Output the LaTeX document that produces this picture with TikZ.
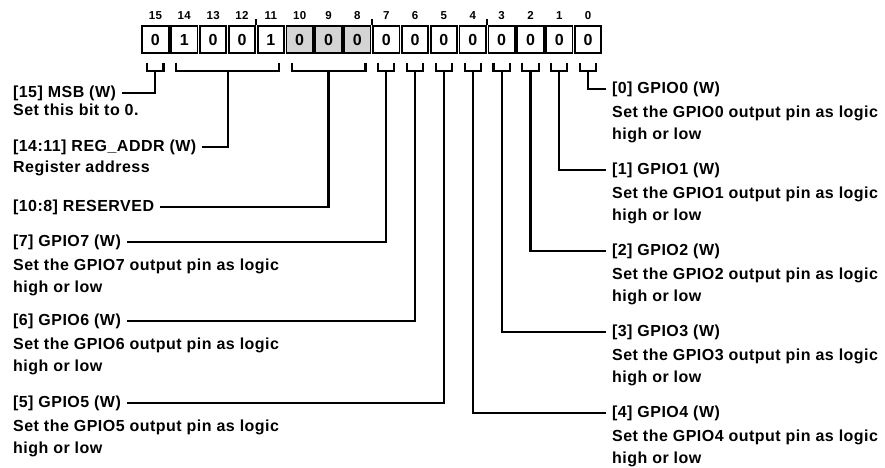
\documentclass[tikz,border=0pt]{standalone}
\usepackage{fontspec}
\setmainfont{Liberation Sans}[LetterSpace=3]
\usetikzlibrary{positioning,calc}
\definecolor{resvgray}{HTML}{D4D4D4}

% bracket under the bits #2..#3, its stem starts at coordinate #1
\newcommand{\regfield}[3]{%
  \draw[wire] ([xshift=6pt,yshift=-9pt]bit#2.south west) -- ++(0,8) -| ([xshift=-6pt,yshift=-9pt]bit#3.south east);
  \coordinate (#1) at ($([yshift=-17pt]bit#2.south west)!0.5!([yshift=-17pt]bit#3.south east)$);
}

\begin{document}
\begin{tikzpicture}[x=1pt, y=-1pt,
    bitbox/.style={draw, line width=1.8pt, minimum width=26.4pt, minimum height=26.6pt, inner sep=0pt, font=\fontsize{16}{16}\selectfont\bfseries},
    bitnum/.style={inner sep=0pt, text height=8.2pt, text depth=0pt, font=\fontsize{11.5}{11.5}\selectfont\bfseries},
    fieldname/.style={inner xsep=3pt, inner ysep=0pt, outer xsep=3pt, anchor=base west, font=\fontsize{16}{16}\selectfont\bfseries},
    fielddesc/.style={inner xsep=3pt, inner ysep=0pt, align=left, font=\fontsize{16}{22.5}\selectfont\bfseries},
    wire/.style={line width=2.1pt},
  ]
  \useasboundingbox[fill=white] (0,0) rectangle (885,467);

  % register row
  \foreach \b/\v/\c in {15/0/white,14/1/white,13/0/white,12/0/white,11/1/white,10/0/resvgray,9/0/resvgray,8/0/resvgray,
                        7/0/white,6/0/white,5/0/white,4/0/white,3/0/white,2/0/white,1/0/white,0/0/white} {
    \node[bitbox, fill=\c] (bit\b) at ({141+(15.5-\b)*28.85}, 39.5) {\v};
    \node[bitnum, above=6pt of bit\b] (num\b) {\b};
  }
  \draw[wire] ($(bit12.north east)!0.5!(bit11.north west)$) -- ++(0,-6);
  \draw[wire] ($(bit8.north east)!0.5!(bit7.north west)$) -- ++(0,-6);
  \draw[wire] ($(bit4.north east)!0.5!(bit3.north west)$) -- ++(0,-6);

  % brackets
  \regfield{f15}{15}{15}
  \regfield{f1411}{14}{11}
  \regfield{f108}{10}{8}
  \regfield{f7}{7}{7}
  \regfield{f6}{6}{6}
  \regfield{f5}{5}{5}
  \regfield{f4}{4}{4}
  \regfield{f3}{3}{3}
  \regfield{f2}{2}{2}
  \regfield{f1}{1}{1}
  \regfield{f0}{0}{0}

  % left labels
  \node[fieldname] (t15) at (7,97) {[15] MSB (W)};
  \node[fielddesc, below right=3pt and 3pt of t15.south west] (d15) {Set this bit to 0.};
  \node[fieldname] (t1411) at (7,151) {[14:11] REG\_ADDR (W)};
  \node[fielddesc, below right=5.9pt and 3pt of t1411.south west] (d1411) {Register address};
  \node[fieldname] (t108) at (7,211) {[10:8] RESERVED};
  \node[fieldname] (t7) at (7,246) {[7] GPIO7 (W)};
  \node[fielddesc, below right=8.9pt and 3pt of t7.south west] (d7) {Set the GPIO7 output pin as logic\\high or low};
  \node[fieldname] (t6) at (7,325) {[6] GPIO6 (W)};
  \node[fielddesc, below right=8.9pt and 3pt of t6.south west] (d6) {Set the GPIO6 output pin as logic\\high or low};
  \node[fieldname] (t5) at (7,407) {[5] GPIO5 (W)};
  \node[fielddesc, below right=8.9pt and 3pt of t5.south west] (d5) {Set the GPIO5 output pin as logic\\high or low};

  % right labels
  \node[fieldname] (t0) at (606,93) {[0] GPIO0 (W)};
  \node[fielddesc, below right=8.9pt and 3pt of t0.south west] (d0) {Set the GPIO0 output pin as logic\\high or low};
  \node[fieldname] (t1) at (606,174) {[1] GPIO1 (W)};
  \node[fielddesc, below right=8.9pt and 3pt of t1.south west] (d1) {Set the GPIO1 output pin as logic\\high or low};
  \node[fieldname] (t2) at (606,255) {[2] GPIO2 (W)};
  \node[fielddesc, below right=8.9pt and 3pt of t2.south west] (d2) {Set the GPIO2 output pin as logic\\high or low};
  \node[fieldname] (t3) at (606,336) {[3] GPIO3 (W)};
  \node[fielddesc, below right=8.9pt and 3pt of t3.south west] (d3) {Set the GPIO3 output pin as logic\\high or low};
  \node[fieldname] (t4) at (606,417) {[4] GPIO4 (W)};
  \node[fielddesc, below right=8.9pt and 3pt of t4.south west] (d4) {Set the GPIO4 output pin as logic\\high or low};

  % connectors
  \draw[wire] (f15) |- (t15.east);
  \draw[wire] (f1411) |- (t1411.east);
  \draw[wire] (f108) |- (t108.east);
  \draw[wire] (f7) |- (t7.east);
  \draw[wire] (f6) |- (t6.east);
  \draw[wire] (f5) |- (t5.east);
  \draw[wire] (f4) |- (t4.west);
  \draw[wire] (f3) |- (t3.west);
  \draw[wire] (f2) |- (t2.west);
  \draw[wire] (f1) |- (t1.west);
  \draw[wire] (f0) |- (t0.west);
\end{tikzpicture}
\end{document}
